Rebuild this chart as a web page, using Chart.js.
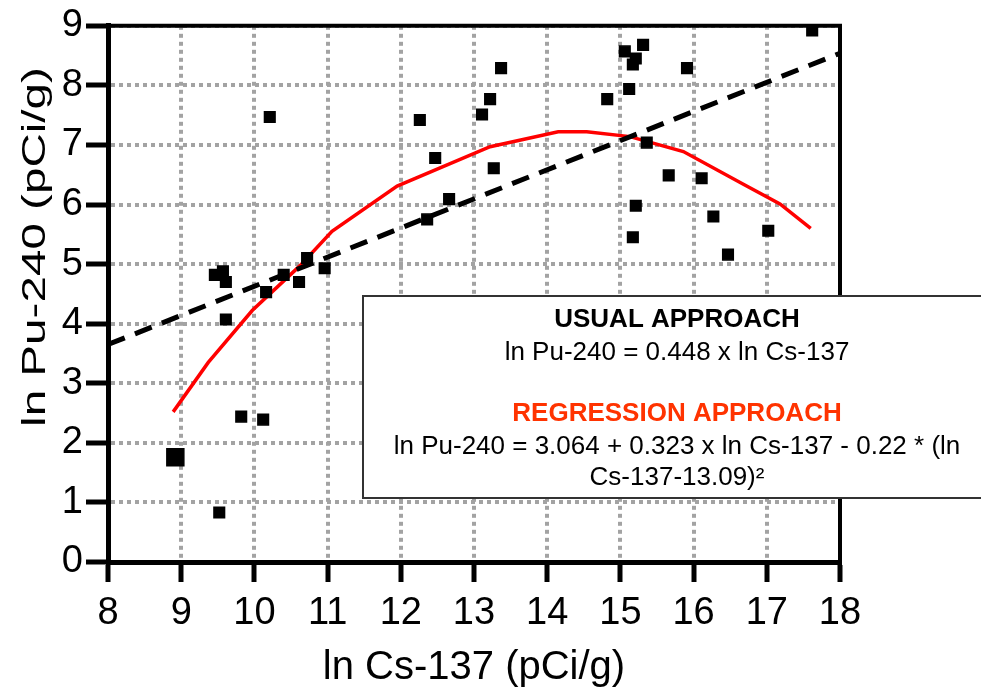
<!DOCTYPE html>
<html lang="en">
<head>
<meta charset="UTF-8">
<title>ln Pu-240 vs ln Cs-137</title>
<style>
    * { margin: 0; padding: 0; box-sizing: border-box; }
    body { background: #fff; width: 981px; height: 697px; overflow: hidden; }
    #chartContainer { width: 981px; height: 697px; }
</style>
<script src="https://cdn.jsdelivr.net/npm/chart.js"></script>
</head>
<body>
<div id="chartContainer"><canvas id="pcChart" width="981" height="697"></canvas></div>
<script>
    const cs137 = [9.52, 9.82, 10.12, 9.61, 9.46, 9.57, 9.61, 10.16, 10.40, 10.61, 10.72, 10.96, 10.21,
                   12.26, 12.47, 12.36, 12.66, 13.11, 13.22, 13.37, 13.27, 14.82, 15.06, 15.31, 15.21,
                   15.17, 15.12, 15.91, 17.62, 15.36, 15.66, 16.11, 15.21, 15.17, 16.27, 16.47, 17.02];
    const pu240 = [0.83, 2.44, 2.39, 4.07, 4.82, 4.88, 4.70, 4.53, 4.82, 4.70, 5.10, 4.93, 7.47,
                   7.42, 6.78, 5.75, 6.09, 7.51, 7.77, 8.29, 6.61, 7.77, 8.57, 8.68, 8.45,
                   8.35, 7.94, 8.29, 8.92, 7.04, 6.49, 6.44, 5.98, 5.45, 5.80, 5.16, 5.56];
    // the bigger marker near the lower left
    const bigCs = [8.92];
    const bigPu = [1.76];

    // usual approach line (dashed)
    const usualCs = [8, 18];
    const usualPu = [3.65, 8.54];

    // regression curve (red)
    const regCs = [8.89, 9.37, 9.97, 10.62, 11.06, 11.95, 13.22, 14.15, 14.54, 15.13, 15.86, 16.68, 17.18, 17.60];
    const regPu = [2.52, 3.35, 4.22, 4.97, 5.55, 6.31, 6.97, 7.22, 7.22, 7.14, 6.89, 6.34, 6.01, 5.60];

    const xTitle = 'ln Cs-137 (pCi/g)';
    const yTitle = 'ln Pu-240 (pCi/g)';
    const usualTitle = 'USUAL APPROACH';
    const usualEq = 'ln Pu-240 = 0.448 x ln Cs-137';
    const regTitle = 'REGRESSION APPROACH';
    const regEq1 = 'ln Pu-240 = 3.064 + 0.323 x ln Cs-137 - 0.22 * (ln';
    const regEq2 = 'Cs-137-13.09)\u00B2';

    const FONT = '"Liberation Sans", Arial, Helvetica, sans-serif';
    const pairs = (xs, ys) => xs.map((x, i) => ({ x: x, y: ys[i] }));

    // frame on top/right, rotated y title and the equation box
    const extras = {
        id: 'extras',
        afterDraw(chart) {
            const ctx = chart.ctx;
            const a = chart.chartArea;
            ctx.save();
            ctx.strokeStyle = '#000';
            ctx.lineWidth = 4;
            ctx.beginPath();
            ctx.moveTo(a.left, a.top);
            ctx.lineTo(a.right, a.top);
            ctx.lineTo(a.right, a.bottom);
            ctx.stroke();
            ctx.restore();

            ctx.save();
            ctx.translate(45, 247);
            ctx.rotate(-Math.PI / 2);
            ctx.scale(1.4, 1);
            ctx.font = '34px ' + FONT;
            ctx.fillStyle = '#000';
            ctx.textAlign = 'center';
            ctx.textBaseline = 'alphabetic';
            ctx.fillText(yTitle, 0, 0);
            ctx.restore();

            ctx.save();
            ctx.fillStyle = '#fff';
            ctx.fillRect(363, 296, 640, 202);
            ctx.strokeStyle = '#333';
            ctx.lineWidth = 2;
            ctx.strokeRect(363, 296, 640, 202);
            ctx.textAlign = 'center';
            ctx.textBaseline = 'alphabetic';
            const cx = 677;
            ctx.fillStyle = '#000';
            ctx.font = 'bold 26px ' + FONT;
            ctx.fillText(usualTitle, cx, 327);
            ctx.font = '26px ' + FONT;
            ctx.fillText(usualEq, cx, 360);
            ctx.fillStyle = '#ff3300';
            ctx.font = 'bold 26px ' + FONT;
            ctx.fillText(regTitle, cx, 421);
            ctx.fillStyle = '#000';
            ctx.font = '26px ' + FONT;
            ctx.fillText(regEq1, cx, 454);
            ctx.fillText(regEq2, cx, 485);
            ctx.restore();
        }
    };

    const ctx = document.getElementById('pcChart').getContext('2d');
    new Chart(ctx, {
        type: 'scatter',
        data: {
            datasets: [
                {
                    label: 'samples',
                    data: pairs(cs137, pu240),
                    pointStyle: 'rect',
                    pointRadius: 7.5,
                    borderWidth: 1.5,
                    backgroundColor: '#000',
                    borderColor: '#000',
                    clip: false
                },
                {
                    label: 'grouped',
                    data: pairs(bigCs, bigPu),
                    pointStyle: 'rect',
                    pointRadius: 12,
                    borderWidth: 1.5,
                    backgroundColor: '#000',
                    borderColor: '#000',
                    clip: false
                },
                {
                    label: 'usual',
                    data: pairs(usualCs, usualPu),
                    showLine: true,
                    borderColor: '#000',
                    borderWidth: 5,
                    borderDash: [18, 11],
                    pointRadius: 0,
                    tension: 0
                },
                {
                    label: 'regression',
                    data: pairs(regCs, regPu),
                    showLine: true,
                    borderColor: '#ff0000',
                    borderWidth: 3.5,
                    pointRadius: 0,
                    tension: 0
                }
            ]
        },
        options: {
            responsive: false,
            animation: false,
            layout: { padding: { left: 0, right: 141, top: 20, bottom: 0 } },
            plugins: {
                legend: { display: false },
                tooltip: { enabled: false }
            },
            scales: {
                x: {
                    type: 'linear',
                    min: 8,
                    max: 18,
                    ticks: { stepSize: 1, color: '#000', font: { family: FONT, size: 38 }, padding: 9 },
                    grid: { color: '#a3a3a3', lineWidth: 4, tickColor: '#000', tickWidth: 5, tickLength: 20, tickBorderDash: [] },
                    border: { display: true, color: '#000', width: 5, dash: [4, 4] },
                    title: { display: true, text: xTitle, color: '#000', font: { family: FONT, size: 40 }, padding: { top: 0, bottom: 5 } },
                    afterFit(axis) { axis.height = 135; }
                },
                y: {
                    type: 'linear',
                    min: 0,
                    max: 9,
                    ticks: { stepSize: 1, color: '#000', font: { family: FONT, size: 38 }, padding: 3 },
                    grid: { color: '#a3a3a3', lineWidth: 4, tickColor: '#000', tickWidth: 5, tickLength: 22, tickBorderDash: [] },
                    border: { display: true, color: '#000', width: 5, dash: [4, 4] },
                    afterFit(axis) { axis.width = 108; }
                }
            }
        },
        plugins: [extras]
    });
</script>
</body>
</html>
